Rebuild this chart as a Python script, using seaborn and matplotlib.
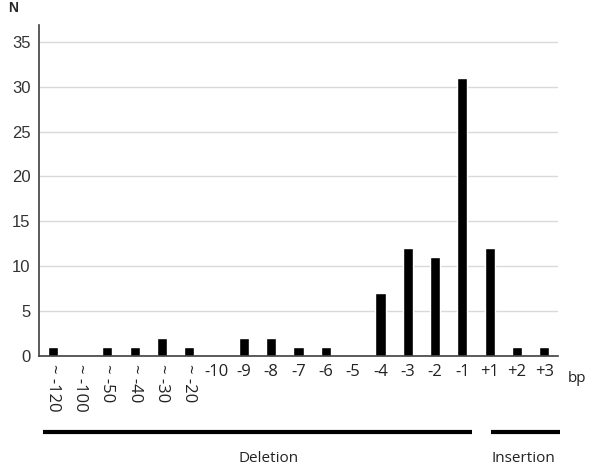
import matplotlib
matplotlib.use("Agg")
import matplotlib.pyplot as plt
import seaborn as sns
import pandas as pd

# Data
categories = ["~ -120", "~ -100", "~ -50", "~ -40", "~ -30", "~ -20",
              "-10", "-9", "-8", "-7", "-6", "-5", "-4", "-3", "-2", "-1",
              "+1", "+2", "+3"]
counts = [1, 0, 1, 1, 2, 1, 0, 2, 2, 1, 1, 0, 7, 12, 11, 31, 12, 1, 1]
y_ticks = [0, 5, 10, 15, 20, 25, 30, 35]
groups = ["Deletion", "Insertion"]

df = pd.DataFrame({"size": categories, "N": counts})

sns.set_style("white")
plt.rcParams["font.family"] = ["Open Sans", "DejaVu Sans"]

fig = plt.figure(figsize=(6, 4.67), dpi=100)
ax = fig.add_axes([0.065, 0.238, 0.865, 0.709])

sns.barplot(data=df, x="size", y="N", order=categories, color="black",
            width=0.37, ax=ax, saturation=1)

ax.set_ylim(0, 36.9)
ax.set_xlim(-0.5, len(categories) - 0.5)
ax.set_yticks(y_ticks)
ax.yaxis.grid(True, color="#d9d9d9", linewidth=1)
ax.set_axisbelow(True)
for s in ["top", "right"]:
    ax.spines[s].set_visible(False)
ax.spines["left"].set_color("#404040")
ax.spines["bottom"].set_color("#404040")
ax.spines["left"].set_linewidth(1.2)
ax.spines["bottom"].set_linewidth(1.2)
ax.tick_params(axis="both", length=0, labelsize=12, pad=6)
for lab in ax.get_yticklabels():
    lab.set_fontfamily(["Liberation Sans", "DejaVu Sans"])
    lab.set_color("#333333")
ax.set_xlabel("")
ax.set_ylabel("")

for lab in ax.get_xticklabels():
    lab.set_color("#222222")
    if lab.get_text().startswith("~"):
        lab.set_rotation(-90)
        lab.set_va("top")
        lab.set_ha("center")

fig.text(0.022, 0.983, "N", fontsize=10, fontweight="bold", va="center",
         ha="center", family=["Liberation Sans", "DejaVu Sans"])
fig.text(0.962, 0.19, "bp", fontsize=11, va="center", ha="center",
         color="#222222")

# group brackets below axis
fig.add_artist(plt.Line2D([0.072, 0.787], [0.075, 0.075], color="black",
                          linewidth=3, solid_capstyle="butt",
                          transform=fig.transFigure))
fig.add_artist(plt.Line2D([0.818, 0.933], [0.075, 0.075], color="black",
                          linewidth=3, solid_capstyle="butt",
                          transform=fig.transFigure))
fig.text(0.447, 0.019, groups[0], fontsize=11, ha="center", va="center",
         color="#222222")
fig.text(0.873, 0.019, groups[1], fontsize=11, ha="center", va="center",
         color="#222222")

fig.savefig("out.png", dpi=100)
